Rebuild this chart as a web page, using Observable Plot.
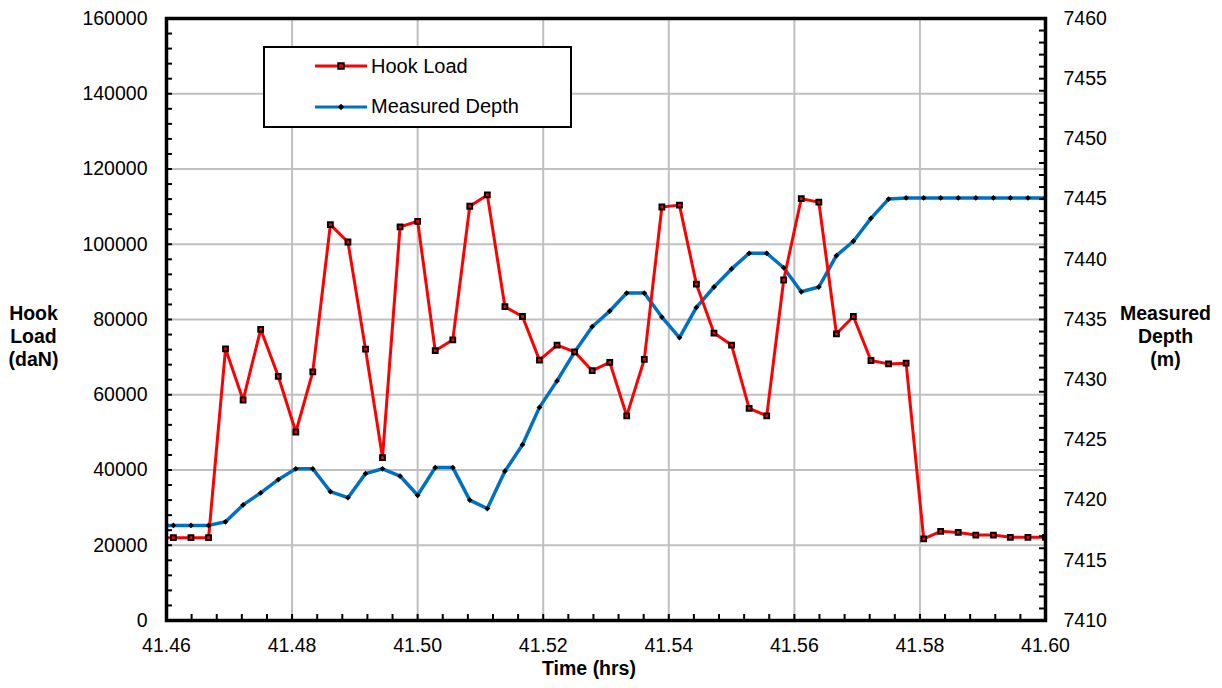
<!DOCTYPE html>
<html>
<head>
<meta charset="utf-8">
<script src="https://cdn.jsdelivr.net/npm/d3@7"></script>
<script src="https://cdn.jsdelivr.net/npm/@observablehq/plot@0.6"></script>
<style>
  body { margin: 0; background: #fff; }
  #wrap { position: relative; width: 1222px; height: 688px; font-family: "Liberation Sans", Arial, sans-serif; }
  #legend { position: absolute; left: 263px; top: 46px; width: 305px; height: 78px; border: 2px solid #000; background: #fff; }
  .item { position: absolute; left: 50px; height: 24px; display: flex; align-items: center; font-size: 20px; color: #000; white-space: nowrap; }
  .item svg { margin-right: 4px; display: block; }
</style>
</head>
<body>
<div id="wrap">
  <div id="legend"></div>
</div>
<script>
// Time in hours (10 s samples); the first sample sits just left of the plotted window
const time = [41.4583, 41.4611, 41.4639, 41.4667, 41.4694, 41.4722, 41.4750, 41.4778, 41.4806, 41.4833, 41.4861,
  41.4889, 41.4917, 41.4944, 41.4972, 41.5000, 41.5028, 41.5056, 41.5083, 41.5111, 41.5139,
  41.5167, 41.5194, 41.5222, 41.5250, 41.5278, 41.5306, 41.5333, 41.5361, 41.5389, 41.5417,
  41.5444, 41.5472, 41.5500, 41.5528, 41.5556, 41.5583, 41.5611, 41.5639, 41.5667, 41.5694,
  41.5722, 41.5750, 41.5778, 41.5806, 41.5833, 41.5861, 41.5889, 41.5917, 41.5944, 41.5972, 41.6000];

// Hook load, daN
const hookLoad = [22000, 22000, 22000, 22000, 72200, 58600, 77400, 64900, 50100, 66100, 105200,
  100600, 72100, 43300, 104600, 106100, 71700, 74600, 110100, 113100, 83400,
  80800, 69200, 73200, 71400, 66400, 68600, 54400, 69400, 109900, 110400,
  89400, 76400, 73200, 56400, 54400, 90500, 112100, 111200, 76200, 80800,
  69100, 68200, 68400, 21700, 23700, 23400, 22700, 22700, 22100, 22100, 22100];

// Measured depth, m
const depth = [7417.9, 7417.9, 7417.9, 7417.9, 7418.2, 7419.6, 7420.6, 7421.7, 7422.6, 7422.6, 7420.7,
  7420.2, 7422.2, 7422.6, 7422.0, 7420.4, 7422.7, 7422.7, 7420.0, 7419.3, 7422.4,
  7424.6, 7427.7, 7429.9, 7432.3, 7434.4, 7435.7, 7437.2, 7437.2, 7435.2, 7433.5,
  7436.0, 7437.7, 7439.2, 7440.5, 7440.5, 7439.3, 7437.3, 7437.7, 7440.3, 7441.5,
  7443.4, 7445.0, 7445.1, 7445.1, 7445.1, 7445.1, 7445.1, 7445.1, 7445.1, 7445.1, 7445.1];

// Axis ticks
const timeTicks = [41.46, 41.48, 41.50, 41.52, 41.54, 41.56, 41.58, 41.60];
const hookTicks = [0, 20000, 40000, 60000, 80000, 100000, 120000, 140000, 160000];
const depthTicks = [7410, 7415, 7420, 7425, 7430, 7435, 7440, 7445, 7450, 7455, 7460];

const timeDomain = [41.46, 41.60];
const hookDomain = [0, 160000];
const depthDomain = [7410, 7460];

const series = [
  {name: "Hook Load", color: "#ff0000", marker: "square"},
  {name: "Measured Depth", color: "#0070c0", marker: "diamond"}
];

// Depth shares the load scale through a linear mapping of the two domains
const toLoad = d => (d - depthDomain[0]) / (depthDomain[1] - depthDomain[0]) * (hookDomain[1] - hookDomain[0]) + hookDomain[0];
const toDepth = v => (v - hookDomain[0]) / (hookDomain[1] - hookDomain[0]) * (depthDomain[1] - depthDomain[0]) + depthDomain[0];

const rows = time.map((t, i) => ({t, hook: hookLoad[i], depth: depth[i]}));

// Minor (inward) tick positions
const timeMinor = d3.range(0, 36).map(i => timeDomain[0] + i * 0.004);
const hookMinor = d3.range(0, 41).map(i => i * 4000);
const depthMinor = d3.range(0, 51).map(i => toLoad(depthDomain[0] + i));

const FS = 19.5;
const gridColor = "#c0c0c0";

const chart = Plot.plot({
  width: 1222,
  height: 688,
  marginLeft: 166,
  marginRight: 177,
  marginTop: 18,
  marginBottom: 68,
  x: {domain: timeDomain},
  y: {domain: hookDomain},
  style: {fontFamily: "'Liberation Sans', Arial, sans-serif", fontSize: FS + "px", background: "#fff", color: "#000", overflow: "visible"},
  marks: [
    Plot.gridX(timeTicks, {stroke: gridColor, strokeOpacity: 1, strokeWidth: 2}),
    Plot.gridY(hookTicks, {stroke: gridColor, strokeOpacity: 1, strokeWidth: 2}),

    Plot.line(rows, {x: "t", y: d => toLoad(d.depth), stroke: series[1].color, strokeWidth: 3.5, clip: true}),
    Plot.line(rows, {x: "t", y: "hook", stroke: series[0].color, strokeWidth: 3, clip: true}),
    Plot.dot(rows, {x: "t", y: d => toLoad(d.depth), symbol: "diamond2", r: 2.6, fill: "#000", stroke: "none", clip: true}),
    Plot.dot(rows, {x: "t", y: "hook", symbol: "square", r: 2.7, fill: series[0].color, stroke: "#000", strokeWidth: 2, clip: true}),

    // inward minor ticks
    Plot.ruleY(hookMinor, {x1: timeDomain[0], x2: timeDomain[0], insetRight: -6, stroke: "#000", strokeWidth: 2}),
    Plot.ruleY(depthMinor, {x1: timeDomain[1], x2: timeDomain[1], insetLeft: -6, stroke: "#000", strokeWidth: 2}),
    Plot.ruleX(timeMinor, {y1: hookDomain[0], y2: hookDomain[0], insetTop: -6, stroke: "#000", strokeWidth: 2}),

    Plot.frame({stroke: "#000", strokeWidth: 3.5}),

    Plot.axisX(timeTicks, {tickSize: 0, tickPadding: 18, tickFormat: d3.format(".2f"), label: null, fontSize: FS}),
    Plot.axisY(hookTicks, {anchor: "left", tickSize: 0, tickPadding: 19, tickFormat: d3.format("d"), label: null, fontSize: FS}),
    Plot.axisY(depthTicks.map(toLoad), {anchor: "right", tickSize: 0, tickPadding: 18, tickFormat: v => String(Math.round(toDepth(v))), label: null, fontSize: FS}),

    // axis titles
    Plot.text(["Hook\nLoad\n(daN)"], {text: d => d, frameAnchor: "left", dx: -133, dy: 16.5, lineHeight: 1.18, fontWeight: "bold", fontSize: FS, textAnchor: "middle"}),
    Plot.text(["Measured\nDepth\n(m)"], {text: d => d, frameAnchor: "right", dx: 120, dy: 16.5, lineHeight: 1.18, fontWeight: "bold", fontSize: FS, textAnchor: "middle"}),
    Plot.text(["Time (hrs)"], {text: d => d, frameAnchor: "bottom", dx: -17, dy: 54, fontWeight: "bold", fontSize: FS, textAnchor: "middle"})
  ]
});

const wrap = document.getElementById("wrap");
wrap.insertBefore(chart, wrap.firstChild);

// Legend overlay in the upper-left of the plot area
const legend = d3.select("#legend");
series.forEach((s, i) => {
  const item = legend.append("div").attr("class", "item").style("top", (i === 0 ? 6 : 46.7) + "px");
  const svg = item.append("svg").attr("width", 52).attr("height", 12);
  svg.append("line").attr("x1", 0).attr("x2", 52).attr("y1", 6).attr("y2", 6)
    .attr("stroke", s.color).attr("stroke-width", 3);
  if (s.marker === "square") {
    svg.append("rect").attr("x", 23.25).attr("y", 3.25).attr("width", 5.5).attr("height", 5.5)
      .attr("fill", s.color).attr("stroke", "#000").attr("stroke-width", 2);
  } else {
    svg.append("path").attr("d", "M26,2.8L29.2,6L26,9.2L22.8,6Z").attr("fill", "#000");
  }
  item.append("span").text(s.name);
});
</script>
</body>
</html>
